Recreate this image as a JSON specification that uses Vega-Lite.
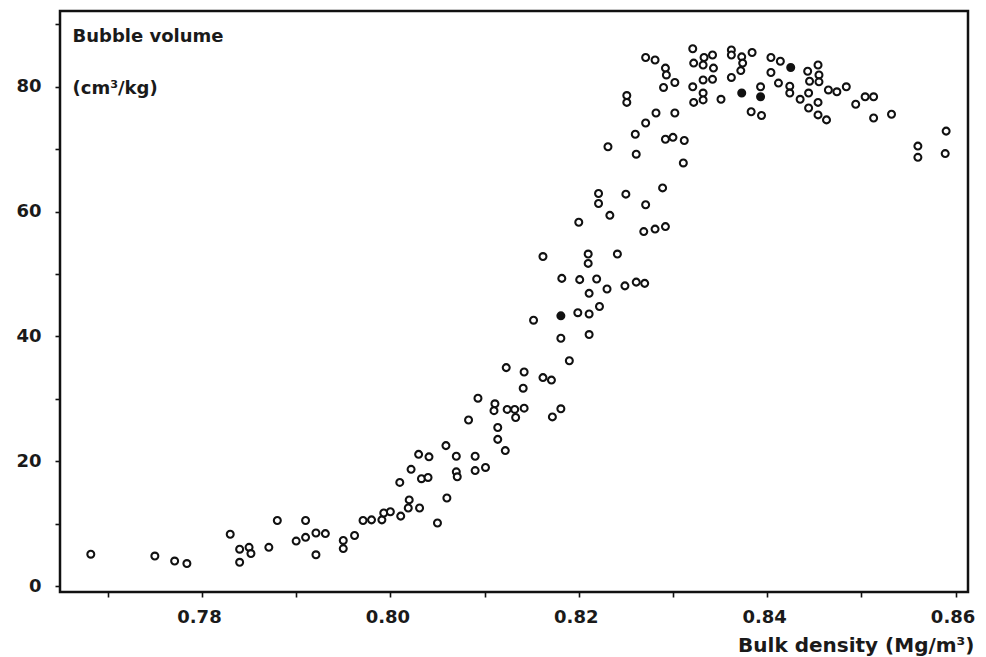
{
  "$schema": "https://vega.github.io/schema/vega-lite/v6.json",
  "width": 908,
  "height": 581,
  "autosize": {"type": "none"},
  "padding": {"left": 60, "top": 11, "right": 18, "bottom": 65},
  "background": "white",
  "config": {
    "view": {"stroke": "#111", "strokeWidth": 2.5},
    "font": "DejaVu Sans",
    "axis": {
      "labelFont": "DejaVu Sans",
      "labelFontSize": 18,
      "labelFontWeight": "bold",
      "labelColor": "#1a1a1a",
      "titleFont": "DejaVu Sans",
      "titleFontSize": 18,
      "titleFontWeight": "bold",
      "titleColor": "#1a1a1a",
      "grid": false,
      "domain": false,
      "tickColor": "#111",
      "tickWidth": 1.6,
      "tickSize": 5
    }
  },
  "data": {
    "values": [
      {"density": 0.7682, "volume": 5.1, "obs": "single"},
      {"density": 0.7750, "volume": 4.8, "obs": "single"},
      {"density": 0.7771, "volume": 4.0, "obs": "single"},
      {"density": 0.7784, "volume": 3.6, "obs": "single"},
      {"density": 0.7830, "volume": 8.3, "obs": "single"},
      {"density": 0.7840, "volume": 5.9, "obs": "single"},
      {"density": 0.7840, "volume": 3.8, "obs": "single"},
      {"density": 0.7850, "volume": 6.2, "obs": "single"},
      {"density": 0.7852, "volume": 5.2, "obs": "single"},
      {"density": 0.7871, "volume": 6.2, "obs": "single"},
      {"density": 0.7880, "volume": 10.5, "obs": "single"},
      {"density": 0.7900, "volume": 7.2, "obs": "single"},
      {"density": 0.7910, "volume": 10.5, "obs": "single"},
      {"density": 0.7910, "volume": 7.8, "obs": "single"},
      {"density": 0.7921, "volume": 8.5, "obs": "single"},
      {"density": 0.7921, "volume": 5.0, "obs": "single"},
      {"density": 0.7931, "volume": 8.4, "obs": "single"},
      {"density": 0.7950, "volume": 7.3, "obs": "single"},
      {"density": 0.7950, "volume": 6.0, "obs": "single"},
      {"density": 0.7962, "volume": 8.1, "obs": "single"},
      {"density": 0.7971, "volume": 10.5, "obs": "single"},
      {"density": 0.7980, "volume": 10.6, "obs": "single"},
      {"density": 0.7991, "volume": 10.6, "obs": "single"},
      {"density": 0.7993, "volume": 11.7, "obs": "single"},
      {"density": 0.8000, "volume": 11.9, "obs": "single"},
      {"density": 0.8011, "volume": 11.2, "obs": "single"},
      {"density": 0.8020, "volume": 13.8, "obs": "single"},
      {"density": 0.8019, "volume": 12.5, "obs": "single"},
      {"density": 0.8031, "volume": 12.5, "obs": "single"},
      {"density": 0.8010, "volume": 16.6, "obs": "single"},
      {"density": 0.8022, "volume": 18.7, "obs": "single"},
      {"density": 0.8033, "volume": 17.2, "obs": "single"},
      {"density": 0.8040, "volume": 17.4, "obs": "single"},
      {"density": 0.8030, "volume": 21.1, "obs": "single"},
      {"density": 0.8041, "volume": 20.7, "obs": "single"},
      {"density": 0.8050, "volume": 10.1, "obs": "single"},
      {"density": 0.8060, "volume": 14.1, "obs": "single"},
      {"density": 0.8059, "volume": 22.5, "obs": "single"},
      {"density": 0.8070, "volume": 20.8, "obs": "single"},
      {"density": 0.8070, "volume": 18.3, "obs": "single"},
      {"density": 0.8071, "volume": 17.5, "obs": "single"},
      {"density": 0.8090, "volume": 20.8, "obs": "single"},
      {"density": 0.8090, "volume": 18.5, "obs": "single"},
      {"density": 0.8101, "volume": 19.0, "obs": "single"},
      {"density": 0.8114, "volume": 25.4, "obs": "single"},
      {"density": 0.8114, "volume": 23.5, "obs": "single"},
      {"density": 0.8122, "volume": 21.7, "obs": "single"},
      {"density": 0.8083, "volume": 26.6, "obs": "single"},
      {"density": 0.8093, "volume": 30.1, "obs": "single"},
      {"density": 0.8111, "volume": 29.2, "obs": "single"},
      {"density": 0.8110, "volume": 28.1, "obs": "single"},
      {"density": 0.8124, "volume": 28.3, "obs": "single"},
      {"density": 0.8132, "volume": 28.3, "obs": "single"},
      {"density": 0.8142, "volume": 28.5, "obs": "single"},
      {"density": 0.8133, "volume": 27.0, "obs": "single"},
      {"density": 0.8181, "volume": 28.4, "obs": "single"},
      {"density": 0.8172, "volume": 27.1, "obs": "single"},
      {"density": 0.8123, "volume": 35.0, "obs": "single"},
      {"density": 0.8142, "volume": 34.3, "obs": "single"},
      {"density": 0.8162, "volume": 33.4, "obs": "single"},
      {"density": 0.8171, "volume": 33.0, "obs": "single"},
      {"density": 0.8141, "volume": 31.7, "obs": "single"},
      {"density": 0.8190, "volume": 36.1, "obs": "single"},
      {"density": 0.8181, "volume": 39.7, "obs": "single"},
      {"density": 0.8211, "volume": 40.3, "obs": "single"},
      {"density": 0.8152, "volume": 42.6, "obs": "single"},
      {"density": 0.8181, "volume": 43.3, "obs": "repeated"},
      {"density": 0.8199, "volume": 43.8, "obs": "single"},
      {"density": 0.8211, "volume": 43.6, "obs": "single"},
      {"density": 0.8222, "volume": 44.8, "obs": "single"},
      {"density": 0.8211, "volume": 46.9, "obs": "single"},
      {"density": 0.8230, "volume": 47.6, "obs": "single"},
      {"density": 0.8249, "volume": 48.1, "obs": "single"},
      {"density": 0.8261, "volume": 48.7, "obs": "single"},
      {"density": 0.8270, "volume": 48.5, "obs": "single"},
      {"density": 0.8182, "volume": 49.3, "obs": "single"},
      {"density": 0.8201, "volume": 49.1, "obs": "single"},
      {"density": 0.8219, "volume": 49.2, "obs": "single"},
      {"density": 0.8162, "volume": 52.8, "obs": "single"},
      {"density": 0.8210, "volume": 53.2, "obs": "single"},
      {"density": 0.8210, "volume": 51.7, "obs": "single"},
      {"density": 0.8241, "volume": 53.2, "obs": "single"},
      {"density": 0.8200, "volume": 58.3, "obs": "single"},
      {"density": 0.8233, "volume": 59.4, "obs": "single"},
      {"density": 0.8269, "volume": 56.8, "obs": "single"},
      {"density": 0.8281, "volume": 57.2, "obs": "single"},
      {"density": 0.8292, "volume": 57.6, "obs": "single"},
      {"density": 0.8221, "volume": 61.3, "obs": "single"},
      {"density": 0.8271, "volume": 61.1, "obs": "single"},
      {"density": 0.8221, "volume": 62.9, "obs": "single"},
      {"density": 0.8250, "volume": 62.8, "obs": "single"},
      {"density": 0.8289, "volume": 63.8, "obs": "single"},
      {"density": 0.8261, "volume": 69.2, "obs": "single"},
      {"density": 0.8311, "volume": 67.8, "obs": "single"},
      {"density": 0.8231, "volume": 70.4, "obs": "single"},
      {"density": 0.8260, "volume": 72.4, "obs": "single"},
      {"density": 0.8292, "volume": 71.6, "obs": "single"},
      {"density": 0.8300, "volume": 71.9, "obs": "single"},
      {"density": 0.8312, "volume": 71.4, "obs": "single"},
      {"density": 0.8271, "volume": 74.2, "obs": "single"},
      {"density": 0.8282, "volume": 75.8, "obs": "single"},
      {"density": 0.8302, "volume": 75.8, "obs": "single"},
      {"density": 0.8251, "volume": 78.6, "obs": "single"},
      {"density": 0.8251, "volume": 77.5, "obs": "single"},
      {"density": 0.8321, "volume": 86.1, "obs": "single"},
      {"density": 0.8271, "volume": 84.7, "obs": "single"},
      {"density": 0.8281, "volume": 84.3, "obs": "single"},
      {"density": 0.8292, "volume": 83.0, "obs": "single"},
      {"density": 0.8293, "volume": 81.9, "obs": "single"},
      {"density": 0.8302, "volume": 80.7, "obs": "single"},
      {"density": 0.8290, "volume": 79.9, "obs": "single"},
      {"density": 0.8322, "volume": 83.8, "obs": "single"},
      {"density": 0.8332, "volume": 83.5, "obs": "single"},
      {"density": 0.8333, "volume": 84.7, "obs": "single"},
      {"density": 0.8342, "volume": 85.1, "obs": "single"},
      {"density": 0.8343, "volume": 83.0, "obs": "single"},
      {"density": 0.8332, "volume": 81.1, "obs": "single"},
      {"density": 0.8342, "volume": 81.2, "obs": "single"},
      {"density": 0.8321, "volume": 80.0, "obs": "single"},
      {"density": 0.8332, "volume": 79.0, "obs": "single"},
      {"density": 0.8332, "volume": 77.9, "obs": "single"},
      {"density": 0.8322, "volume": 77.5, "obs": "single"},
      {"density": 0.8351, "volume": 78.0, "obs": "single"},
      {"density": 0.8362, "volume": 85.9, "obs": "single"},
      {"density": 0.8362, "volume": 85.1, "obs": "single"},
      {"density": 0.8373, "volume": 84.8, "obs": "single"},
      {"density": 0.8374, "volume": 83.8, "obs": "single"},
      {"density": 0.8384, "volume": 85.5, "obs": "single"},
      {"density": 0.8372, "volume": 82.6, "obs": "single"},
      {"density": 0.8362, "volume": 81.5, "obs": "single"},
      {"density": 0.8373, "volume": 79.0, "obs": "repeated"},
      {"density": 0.8393, "volume": 80.0, "obs": "single"},
      {"density": 0.8393, "volume": 78.4, "obs": "repeated"},
      {"density": 0.8383, "volume": 76.0, "obs": "single"},
      {"density": 0.8394, "volume": 75.4, "obs": "single"},
      {"density": 0.8404, "volume": 84.7, "obs": "single"},
      {"density": 0.8404, "volume": 82.3, "obs": "single"},
      {"density": 0.8412, "volume": 80.6, "obs": "single"},
      {"density": 0.8414, "volume": 84.1, "obs": "single"},
      {"density": 0.8425, "volume": 83.1, "obs": "repeated"},
      {"density": 0.8424, "volume": 80.1, "obs": "single"},
      {"density": 0.8424, "volume": 79.0, "obs": "single"},
      {"density": 0.8443, "volume": 82.5, "obs": "single"},
      {"density": 0.8454, "volume": 83.5, "obs": "single"},
      {"density": 0.8455, "volume": 81.9, "obs": "single"},
      {"density": 0.8445, "volume": 80.9, "obs": "single"},
      {"density": 0.8455, "volume": 80.8, "obs": "single"},
      {"density": 0.8444, "volume": 79.0, "obs": "single"},
      {"density": 0.8435, "volume": 78.0, "obs": "single"},
      {"density": 0.8454, "volume": 77.5, "obs": "single"},
      {"density": 0.8444, "volume": 76.6, "obs": "single"},
      {"density": 0.8454, "volume": 75.5, "obs": "single"},
      {"density": 0.8463, "volume": 74.7, "obs": "single"},
      {"density": 0.8465, "volume": 79.5, "obs": "single"},
      {"density": 0.8474, "volume": 79.2, "obs": "single"},
      {"density": 0.8484, "volume": 80.0, "obs": "single"},
      {"density": 0.8494, "volume": 77.2, "obs": "single"},
      {"density": 0.8504, "volume": 78.4, "obs": "single"},
      {"density": 0.8513, "volume": 78.4, "obs": "single"},
      {"density": 0.8513, "volume": 75.0, "obs": "single"},
      {"density": 0.8532, "volume": 75.6, "obs": "single"},
      {"density": 0.8590, "volume": 72.9, "obs": "single"},
      {"density": 0.8589, "volume": 69.3, "obs": "single"},
      {"density": 0.8560, "volume": 70.5, "obs": "single"},
      {"density": 0.8560, "volume": 68.7, "obs": "single"}
    ]
  },
  "mark": {
    "type": "point",
    "shape": "circle",
    "filled": false,
    "size": 48,
    "strokeWidth": 2.1,
    "stroke": "#111",
    "opacity": 1
  },
  "encoding": {
    "x": {
      "field": "density",
      "type": "quantitative",
      "scale": {"domain": [0.76493, 0.86132], "nice": false, "zero": false},
      "axis": {
        "values": [0.77, 0.78, 0.79, 0.8, 0.81, 0.82, 0.83, 0.84, 0.85, 0.86],
        "labelExpr": "round(datum.value * 100) % 2 === 0 ? format(datum.value, '.2f') : ''",
        "labelPadding": 11,
        "labelOffset": -3,
        "title": "Bulk density (Mg/m³)",
        "titleFontSize": 20,
        "titleAnchor": "end",
        "titleAlign": "right",
        "titleBaseline": "alphabetic",
        "titleX": 914,
        "titleY": 59
      }
    },
    "y": {
      "field": "volume",
      "type": "quantitative",
      "scale": {"domain": [-0.96, 92.15], "nice": false, "zero": false},
      "axis": {
        "values": [0, 10, 20, 30, 40, 50, 60, 70, 80, 90],
        "labelExpr": "datum.value % 20 === 0 ? datum.label : ''",
        "labelPadding": 14,
        "title": ["Bubble volume", "(cm³/kg)"],
        "titleAngle": 0,
        "titleAlign": "left",
        "titleBaseline": "alphabetic",
        "titleLineHeight": 52,
        "titleX": 12,
        "titleY": 30
      }
    },
    "fill": {
      "field": "obs",
      "type": "nominal",
      "scale": {"domain": ["single", "repeated"], "range": ["white", "#111"]},
      "legend": null
    }
  }
}
